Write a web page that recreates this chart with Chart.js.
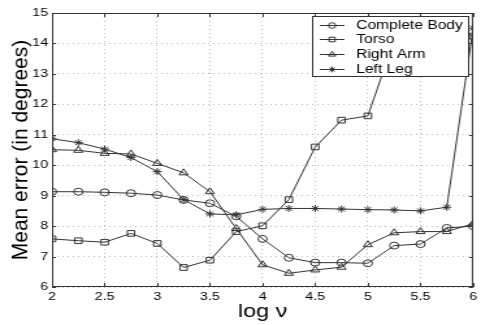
<!DOCTYPE html>
<html>
<head>
<meta charset="utf-8">
<script src="https://cdn.jsdelivr.net/npm/chart.js@4/dist/chart.umd.min.js"></script>
<style>
  html, body { margin: 0; padding: 0; background: #fff; overflow: hidden; }
  /* the reference figure is stretched sideways, so draw narrow and widen */
  #wrap { width: 370px; height: 325px; transform: scaleX(1.3); transform-origin: 0 0; }
</style>
</head>
<body>
<div id="wrap"><canvas id="errChart"></canvas></div>
<script>
// log nu values on the x axis
var logNu = [2, 2.25, 2.5, 2.75, 3, 3.25, 3.5, 3.75, 4, 4.25, 4.5, 4.75, 5, 5.25, 5.5, 5.75, 6];

// mean error (degrees) per body part
var completeBody = [9.13, 9.13, 9.11, 9.08, 9.02, 8.86, 8.75, 8.32, 7.58, 6.96, 6.80, 6.80, 6.78, 7.36, 7.41, 7.94, 8.00];
var torso        = [7.58, 7.52, 7.47, 7.76, 7.43, 6.64, 6.88, 7.82, 8.01, 8.87, 10.60, 11.48, 11.62, 14.1, 14.5, 14.6, 14.24];
var rightArm     = [10.51, 10.49, 10.39, 10.37, 10.06, 9.75, 9.13, 7.92, 6.73, 6.45, 6.56, 6.65, 7.39, 7.78, 7.82, 7.82, 8.08];
var leftLeg      = [10.87, 10.74, 10.53, 10.25, 9.79, 8.87, 8.40, 8.37, 8.55, 8.58, 8.58, 8.56, 8.54, 8.53, 8.50, 8.62, 14.50];

var seriesNames = ['Complete Body', 'Torso', 'Right Arm', 'Left Leg'];
var seriesData = [completeBody, torso, rightArm, leftLeg];
var markers = ['circle', 'rect', 'triangle', 'star'];
var markerSize = [3.5, 4, 4, 3.5];

var xTicks = [2, 2.5, 3, 3.5, 4, 4.5, 5, 5.5, 6];
var yTicks = [6, 7, 8, 9, 10, 11, 12, 13, 14, 15];
var yTitle = 'Mean error (in degrees)';

var stretch = 1.3;
var ink = '#333';
Chart.defaults.font.family = '"Liberation Sans", Arial, Helvetica, sans-serif';
Chart.defaults.color = '#000';

function toPoints(ys) {
    return ys.map(function (y, i) { return { x: logNu[i], y: y }; });
}

var datasets = seriesNames.map(function (name, i) {
    return {
        label: name,
        data: toPoints(seriesData[i]),
        borderColor: ink,
        borderWidth: 1,
        pointStyle: markers[i],
        pointRadius: markerSize[i],
        pointBorderWidth: 1,
        pointBorderColor: ink,
        pointBackgroundColor: 'rgba(0,0,0,0)',
        fill: false,
        tension: 0
    };
});

function drawMarker(ctx, style, r, x, y) {
    if (Chart.helpers && Chart.helpers.drawPoint) {
        Chart.helpers.drawPoint(ctx, { pointStyle: style, radius: r, borderWidth: 1, rotation: 0 }, x, y);
    }
}

// box, inward tick marks, y title and the legend inside the plot (matlab style)
var matlabFrame = {
    id: 'matlabFrame',
    afterDraw: function (chart) {
        var ctx = chart.ctx;
        var a = chart.chartArea;
        var xs = chart.scales.x, ys = chart.scales.y;
        ctx.save();
        ctx.strokeStyle = ink;
        ctx.lineWidth = 1;
        ctx.strokeRect(a.left + 0.5, a.top + 0.5, a.right - a.left - 1, a.bottom - a.top - 1);
        ctx.beginPath();
        xTicks.forEach(function (v) {
            var px = Math.round(xs.getPixelForValue(v)) + 0.5;
            ctx.moveTo(px, a.bottom); ctx.lineTo(px, a.bottom - 4);
            ctx.moveTo(px, a.top); ctx.lineTo(px, a.top + 4);
        });
        yTicks.forEach(function (v) {
            var py = Math.round(ys.getPixelForValue(v)) + 0.5;
            ctx.moveTo(a.left, py); ctx.lineTo(a.left + 3, py);
            ctx.moveTo(a.right, py); ctx.lineTo(a.right - 3, py);
        });
        ctx.stroke();

        // y title, undo the sideways stretch so the rotated glyphs stay slim
        ctx.save();
        ctx.translate(17, (a.top + a.bottom) / 2);
        ctx.scale(1 / stretch, 1);
        ctx.rotate(-Math.PI / 2);
        ctx.font = '21px "Liberation Sans", Arial, sans-serif';
        ctx.fillStyle = '#000';
        ctx.textAlign = 'center';
        ctx.textBaseline = 'middle';
        ctx.fillText(yTitle, 0, 0);
        ctx.restore();

        // legend
        ctx.font = '12px "Liberation Sans", Arial, sans-serif';
        var right = Math.round(a.right - 4);
        var textX = right - 86;
        var left = textX - 34;
        var top = Math.round(a.top + 3);
        var rowH = 14.7;
        var h = Math.round(rowH * seriesNames.length + 1);
        ctx.fillStyle = '#fff';
        ctx.fillRect(left, top, right - left, h);
        ctx.strokeRect(left + 0.5, top + 0.5, right - left, h);
        ctx.textBaseline = 'middle';
        seriesNames.forEach(function (n, i) {
            var cy = Math.round(top + 8.5 + i * rowH) + 0.5;
            ctx.strokeStyle = ink;
            ctx.beginPath();
            ctx.moveTo(textX - 28, cy);
            ctx.lineTo(textX - 9, cy);
            ctx.stroke();
            ctx.fillStyle = 'rgba(0,0,0,0)';
            drawMarker(ctx, markers[i], markerSize[i] * 0.8, textX - 18.5, cy);
            ctx.fillStyle = '#000';
            ctx.fillText(n, textX, cy);
        });
        ctx.restore();
    }
};

function plainNumber(v) { return String(v); }

var ctx = document.getElementById('errChart').getContext('2d');
var errChart = new Chart(ctx, {
    type: 'line',
    data: { datasets: datasets },
    options: {
        responsive: true,
        maintainAspectRatio: false,
        animation: false,
        layout: { padding: { top: 13, right: 3, left: 0, bottom: 0 } },
        plugins: {
            legend: { display: false },
            tooltip: { enabled: false }
        },
        scales: {
            x: {
                type: 'linear',
                min: 2,
                max: 6,
                afterFit: function (s) { s.height = 38; },
                afterBuildTicks: function (s) { s.ticks = xTicks.map(function (v) { return { value: v }; }); },
                ticks: { font: { size: 11 }, padding: 3, maxRotation: 0, color: '#000', callback: plainNumber },
                grid: { color: '#bdbdbd', drawTicks: false, lineWidth: 1 },
                border: { display: false, dash: [1, 3] },
                title: { display: true, text: 'log ν', font: { size: 18 }, color: '#000', padding: { top: 0, bottom: 2 } }
            },
            y: {
                min: 6,
                max: 15,
                afterFit: function (s) { s.width = 40; },
                afterBuildTicks: function (s) { s.ticks = yTicks.map(function (v) { return { value: v }; }); },
                ticks: { font: { size: 11 }, padding: 3, color: '#000', callback: plainNumber },
                grid: { color: '#bdbdbd', drawTicks: false, lineWidth: 1 },
                border: { display: false, dash: [1, 3] },
                title: { display: false }
            }
        }
    },
    plugins: [matlabFrame]
});
</script>
</body>
</html>
